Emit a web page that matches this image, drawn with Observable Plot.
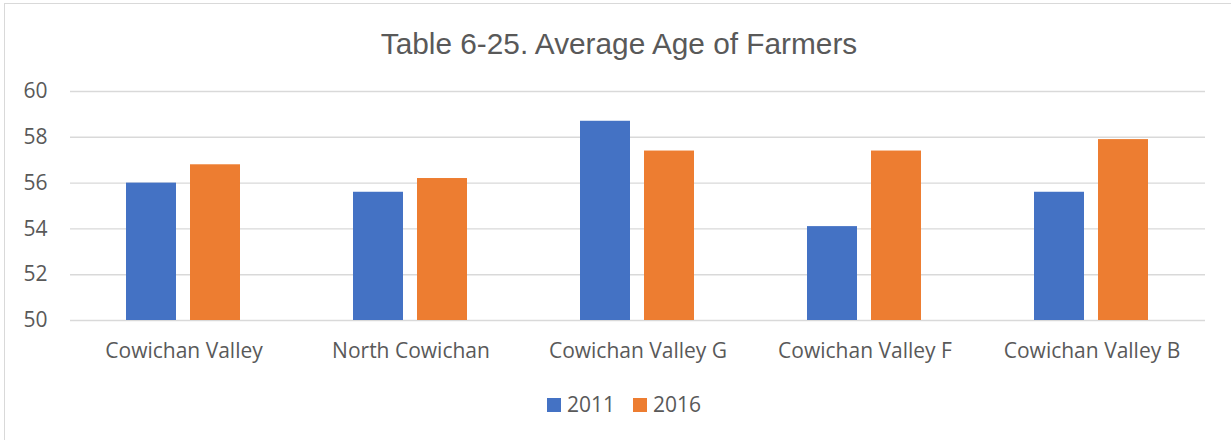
<!DOCTYPE html>
<html>
<head>
<meta charset="utf-8">
<script src="https://cdn.jsdelivr.net/npm/d3@7"></script>
<script src="https://cdn.jsdelivr.net/npm/@observablehq/plot@0.6"></script>
<style>
  html, body { margin: 0; padding: 0; background: #fff; }
  #wrap { position: relative; width: 1231px; height: 440px; overflow: hidden; }
  #frame { position: absolute; left: 4px; top: 3px; width: 1260px; height: 480px; border: 1.5px solid #d9d9d9; box-sizing: border-box; }
  #title { position: absolute; left: 5px; top: 29px; width: 1228px; text-align: center; font: 29.8px "Liberation Sans", Arial, sans-serif; line-height: 1; color: #595959; }
  #chart { position: absolute; left: 0; top: 70px; }
  #legend { position: absolute; left: 10px; top: 394px; width: 1228px; display: flex; justify-content: center; align-items: center; font: 21px "Open Sans", sans-serif; color: #595959; line-height: 1; }
  .item { display: inline-flex; align-items: center; margin: 0 9px; }
  .sw { width: 14px; height: 14px; margin-right: 6px; display: inline-block; }
</style>
</head>
<body>
<div id="wrap">
  <div id="frame"></div>
  <div id="title"></div>
  <div id="chart"></div>
  <div id="legend"></div>
</div>
<script>
const titleText = "Table 6-25. Average Age of Farmers";
const regions = ["Cowichan Valley", "North Cowichan", "Cowichan Valley G", "Cowichan Valley F", "Cowichan Valley B"];
const years = ["2011", "2016"];
const values2011 = [56.0, 55.6, 58.7, 54.1, 55.6];
const values2016 = [56.8, 56.2, 57.4, 57.4, 57.9];
const yTicks = [50, 52, 54, 56, 58, 60];
const colors = ["#4472C4", "#ED7D31"];

const data = [];
regions.forEach((r, i) => {
  data.push({region: r, year: years[0], value: values2011[i]});
  data.push({region: r, year: years[1], value: values2016[i]});
});

document.getElementById("title").textContent = titleText;

const chart = Plot.plot({
  width: 1231,
  height: 310,
  marginLeft: 70,
  marginRight: 26,
  marginTop: 21,
  marginBottom: 60,
  style: {fontFamily: "'Open Sans', sans-serif", color: "#595959", background: "transparent", overflow: "visible"},
  fx: {domain: regions, padding: 0, label: null},
  x: {domain: years, paddingInner: 0.215, paddingOuter: 0.854, axis: null},
  y: {domain: [yTicks[0], yTicks[yTicks.length - 1]], label: null},
  color: {domain: years, range: colors},
  marks: [
    Plot.ruleY(yTicks, {stroke: "#d9d9d9", strokeWidth: 1.4}),
    Plot.barY(data, {fx: "region", x: "year", y1: yTicks[0], y2: "value", fill: "year"}),
    Plot.axisY(yTicks, {tickSize: 0, tickPadding: 23, fontSize: 21, fill: "#595959", label: null}),
    Plot.axisFx({anchor: "bottom", tickSize: 0, tickPadding: 23, fontSize: 21, fill: "#595959", label: null})
  ]
});
document.getElementById("chart").appendChild(chart);

const legend = document.getElementById("legend");
years.forEach((y, i) => {
  const item = document.createElement("span");
  item.className = "item";
  const sw = document.createElement("span");
  sw.className = "sw";
  sw.style.background = colors[i];
  item.appendChild(sw);
  const t = document.createElement("span");
  t.textContent = y;
  item.appendChild(t);
  legend.appendChild(item);
});
</script>
</body>
</html>
